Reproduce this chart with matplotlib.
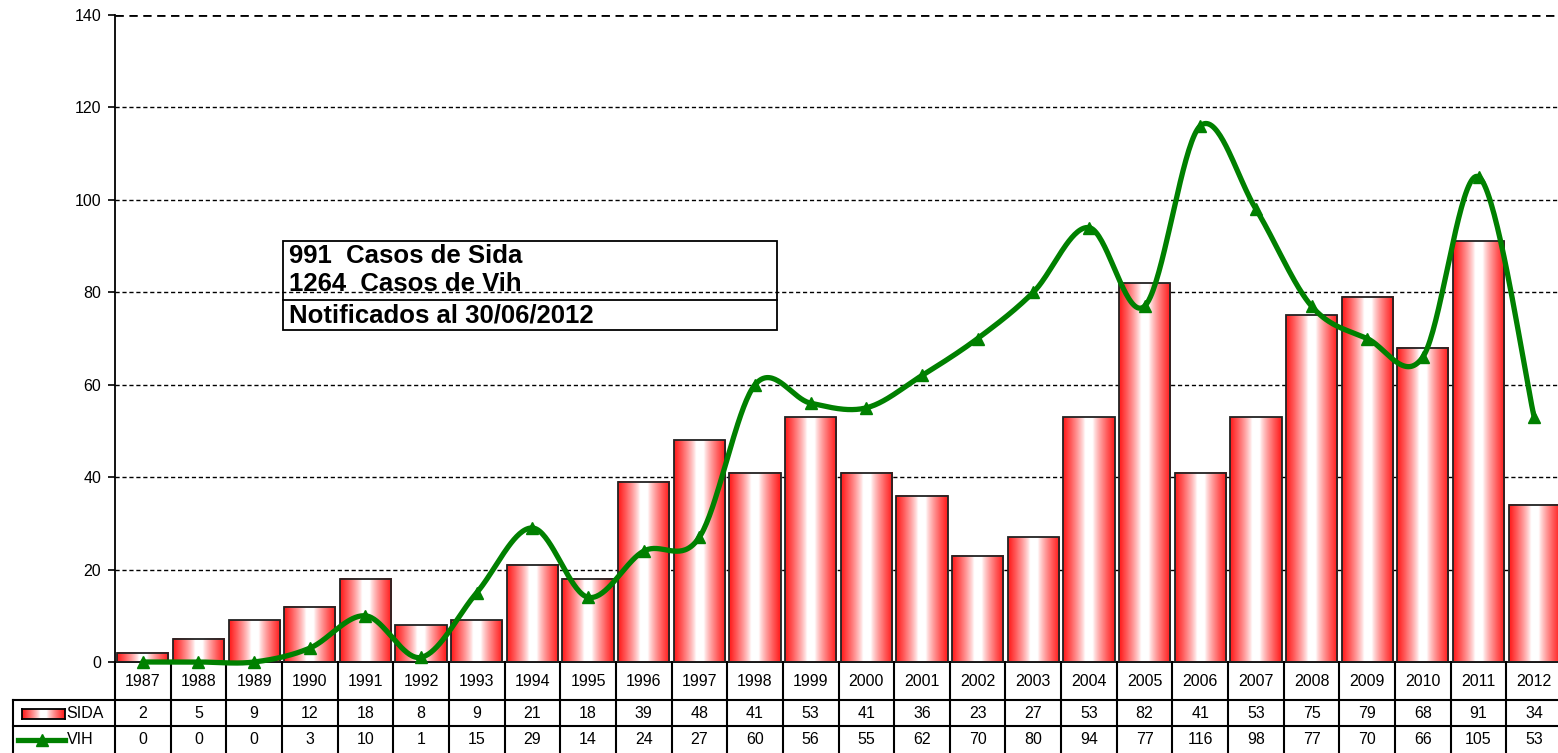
import numpy as np
import matplotlib
matplotlib.use("Agg")
import matplotlib.pyplot as plt
from matplotlib import transforms
from matplotlib.patches import Rectangle
from matplotlib.lines import Line2D

plt.rcParams['font.family'] = ['Liberation Sans', 'DejaVu Sans']

years = ['1987', '1988', '1989', '1990', '1991', '1992', '1993', '1994', '1995',
         '1996', '1997', '1998', '1999', '2000', '2001', '2002', '2003', '2004',
         '2005', '2006', '2007', '2008', '2009', '2010', '2011', '2012']
sida = [2, 5, 9, 12, 18, 8, 9, 21, 18, 39, 48, 41, 53, 41, 36, 23, 27, 53,
        82, 41, 53, 75, 79, 68, 91, 34]
vih = [0, 0, 0, 3, 10, 1, 15, 29, 14, 24, 27, 60, 56, 55, 62, 70, 80, 94,
       77, 116, 98, 77, 70, 66, 105, 53]
series_names = ['SIDA', 'VIH']
box_lines = ['991  Casos de Sida', '1264  Casos de Vih', 'Notificados al 30/06/2012']
yticks = [0, 20, 40, 60, 80, 100, 120, 140]

W, H = 1558, 753
fig = plt.figure(figsize=(W / 100, H / 100), dpi=100)


def fx(px):
    return px / W


def fy(py):
    return 1 - py / H


ax = fig.add_axes([fx(115), fy(662), 1447 / W, (662 - 15) / H])
x = np.arange(len(years))
green = '#008000'

# horizontal red-white-red gradient used by the bars
t = np.linspace(0, 1, 96)
d = np.abs(2 * t - 1)
w = np.clip((d - 0.15) / 0.8, 0, 1) ** 0.8
red = np.array([1.0, 0.14, 0.14])
grad = (1 - w)[:, None] * np.ones(3) + w[:, None] * red
grad_img = grad[None, :, :]

bw = 0.92
for xi, v in zip(x, sida):
    ax.imshow(grad_img, extent=(xi - bw / 2, xi + bw / 2, 0, v), aspect='auto',
              interpolation='bilinear', zorder=2)
    ax.add_patch(Rectangle((xi - bw / 2, 0), bw, v, fill=False,
                           edgecolor='#222222', linewidth=1.3, zorder=3))


# smoothed line (Catmull-Rom style cubic Bezier segments)
def smooth(xs, ys, n=40):
    P = np.column_stack([xs, ys]).astype(float)
    Pp = np.vstack([P[0], P, P[-1]])
    out = []
    for i in range(len(P) - 1):
        p0, p1, p2, p3 = Pp[i], Pp[i + 1], Pp[i + 2], Pp[i + 3]
        b1 = p1 + (p2 - p0) / 6
        b2 = p2 - (p3 - p1) / 6
        s = np.linspace(0, 1, n)[:, None]
        seg = ((1 - s) ** 3) * p1 + 3 * ((1 - s) ** 2) * s * b1 + 3 * (1 - s) * s ** 2 * b2 + s ** 3 * p2
        out.append(seg if i == 0 else seg[1:])
    c = np.vstack(out)
    return c[:, 0], c[:, 1]


sx, sy = smooth(x, vih)
ax.plot(sx, sy, color=green, linewidth=3.8, zorder=4, clip_on=False,
        solid_capstyle='round')
ax.plot(x, vih, linestyle='none', marker='^', markersize=8.5, color=green,
        zorder=5, clip_on=False)

ax.set_xlim(-0.5, len(years) - 0.5)
ax.set_ylim(0, 140)
ax.set_yticks(yticks)
ax.set_yticklabels([str(v) for v in yticks], fontsize=11.5)
ax.set_xticks([])
ax.tick_params(axis='y', length=5, width=1.2, pad=5, direction='out')
for v in yticks[1:]:
    ax.axhline(v, color='black', linewidth=2.0 if v == 140 else 1.0,
               linestyle=(0, (3, 2)), zorder=1)
ax.spines['top'].set_visible(False)
ax.spines['right'].set_visible(False)
ax.spines['left'].set_linewidth(1.3)
ax.spines['bottom'].set_linewidth(1.3)

# data table below the plot
bt = transforms.blended_transform_factory(ax.transData, fig.transFigure)
ft = fig.transFigure
lw_t = 1.5
for i in range(len(years) + 1):
    ax.add_line(Line2D([i - 0.5, i - 0.5], [fy(662), fy(753)], transform=bt,
                       color='black', linewidth=lw_t, clip_on=False))
for py in (700, 726):
    fig.add_artist(Line2D([fx(13), 1], [fy(py), fy(py)], transform=ft,
                          color='black', linewidth=lw_t))
fig.add_artist(Line2D([fx(13), fx(13)], [fy(700), fy(753)], transform=ft,
                      color='black', linewidth=lw_t))

for xi, yr, s, v in zip(x, years, sida, vih):
    ax.text(xi, fy(681), yr, transform=bt, ha='center', va='center', fontsize=11.5, clip_on=False)
    ax.text(xi, fy(713), str(s), transform=bt, ha='center', va='center', fontsize=11.5, clip_on=False)
    ax.text(xi, fy(740), str(v), transform=bt, ha='center', va='center', fontsize=11.5, clip_on=False)

# legend keys inside the table
kax = fig.add_axes([fx(22), fy(719), fx(65) - fx(22), (719 - 709) / H])
kax.imshow(grad_img, extent=(0, 1, 0, 1), aspect='auto', interpolation='bilinear')
kax.set_xlim(0, 1)
kax.set_ylim(0, 1)
kax.set_xticks([])
kax.set_yticks([])
for sp in kax.spines.values():
    sp.set_linewidth(1.3)
fig.text(fx(66), fy(713), series_names[0], ha='left', va='center', fontsize=11.5)
fig.add_artist(Line2D([fx(18), fx(65)], [fy(740), fy(740)], transform=ft,
                      color=green, linewidth=3.8))
fig.add_artist(Line2D([fx(42)], [fy(740)], transform=ft, color=green,
                      marker='^', markersize=8.5, linestyle='none'))
fig.text(fx(67), fy(740), series_names[1], ha='left', va='center', fontsize=11.5)

# annotation box (transparent, gridline shows through)
fig.add_artist(Rectangle((fx(283), fy(330)), fx(777) - fx(283), (330 - 241) / H,
                         transform=ft, facecolor='none', edgecolor='black',
                         linewidth=1.3, zorder=6))
fig.add_artist(Line2D([fx(283), fx(777)], [fy(300), fy(300)], transform=ft,
                      color='black', linewidth=1.3, zorder=7))
for txt, py in zip(box_lines, (263, 291, 322)):
    fig.text(fx(289), fy(py), txt, ha='left', va='baseline', fontsize=18.5,
             fontweight='bold', zorder=8)

fig.savefig('out.png', dpi=100)
